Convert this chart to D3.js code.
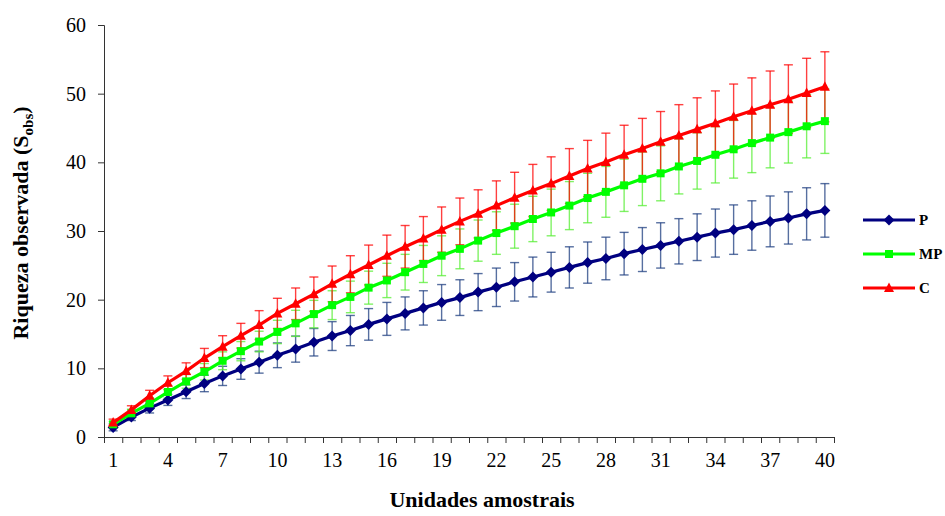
<!DOCTYPE html>
<html>
<head>
<meta charset="utf-8">
<script src="https://cdn.jsdelivr.net/npm/d3@7"></script>
<style>
    body { margin: 0; background: #fff; }
    text { font-family: "Liberation Serif", "Times New Roman", serif; }
</style>
</head>
<body>
<script>
// sampling units 1..40
let units = d3.range(1, 41);

let pMean = [1.4, 2.9, 4.2, 5.4, 6.6, 7.8, 8.9, 9.9, 10.9, 11.9,
    12.8, 13.8, 14.7, 15.5, 16.4, 17.2, 18.0, 18.8, 19.6, 20.3,
    21.1, 21.8, 22.6, 23.3, 24.0, 24.7, 25.4, 26.0, 26.7, 27.3,
    27.9, 28.5, 29.1, 29.7, 30.2, 30.8, 31.4, 31.9, 32.5, 33.0];
let pErr = [0.5, 0.5, 0.7, 0.8, 1.0, 1.2, 1.4, 1.5, 1.6, 1.8,
    1.9, 2.0, 2.1, 2.2, 2.3, 2.4, 2.4, 2.5, 2.6, 2.6,
    2.7, 2.8, 2.8, 2.9, 2.9, 3.0, 3.0, 3.1, 3.1, 3.2,
    3.3, 3.3, 3.4, 3.5, 3.6, 3.6, 3.7, 3.8, 3.8, 3.9];

let mpMean = [1.85, 3.45, 4.9, 6.55, 8.1, 9.5, 11.1, 12.5, 13.9, 15.3,
    16.55, 17.9, 19.2, 20.4, 21.75, 22.8, 24.0, 25.2, 26.4, 27.4,
    28.6, 29.7, 30.7, 31.75, 32.7, 33.7, 34.8, 35.7, 36.65, 37.6,
    38.4, 39.4, 40.2, 41.1, 41.9, 42.8, 43.6, 44.4, 45.25, 46.0];
let mpErr = [0.4, 0.6, 0.8, 0.9, 1.0, 1.2, 1.3, 1.4, 1.5, 1.7,
    1.9, 2.0, 2.1, 2.3, 2.4, 2.5, 2.6, 2.7, 2.9, 2.9,
    3.0, 3.1, 3.2, 3.3, 3.4, 3.5, 3.6, 3.7, 3.8, 3.9,
    4.0, 4.0, 4.1, 4.1, 4.2, 4.3, 4.4, 4.5, 4.6, 4.7];

let cMean = [2.1, 3.95, 6.0, 7.9, 9.6, 11.5, 13.15, 14.75, 16.3, 18.0,
    19.4, 20.8, 22.3, 23.7, 25.05, 26.4, 27.7, 28.9, 30.2, 31.4,
    32.5, 33.7, 34.85, 35.9, 36.9, 38.0, 39.1, 40.05, 41.1, 42.0,
    43.0, 43.9, 44.8, 45.7, 46.65, 47.5, 48.4, 49.2, 50.1, 51.0];
let cErr = [0.5, 0.6, 0.8, 1.0, 1.2, 1.4, 1.6, 1.8, 2.1, 2.2,
    2.3, 2.5, 2.6, 2.7, 2.9, 3.0, 3.1, 3.2, 3.3, 3.4,
    3.5, 3.6, 3.7, 3.8, 3.9, 4.0, 4.1, 4.2, 4.3, 4.4,
    4.4, 4.5, 4.6, 4.7, 4.75, 4.8, 4.9, 5.0, 5.05, 5.1];

let xTickLabels = [1, 4, 7, 10, 13, 16, 19, 22, 25, 28, 31, 34, 37, 40];
let yTickLabels = [0, 10, 20, 30, 40, 50, 60];

let seriesNames = ["P", "MP", "C"];

window.onload = function() {
    let w = 945,
        h = 516;

    let svg = d3.select("body")
        .append("svg")
        .attr("width", w)
        .attr("height", h);

    let x = d3.scaleBand()
        .domain(units)
        .range([104, 834]);
    let xEdge = d3.scaleLinear()
        .domain([0, 40])
        .range([104, 834]);
    let y = d3.scaleLinear()
        .domain([0, 60])
        .range([437, 25]);

    let cx = function(u) { return x(u) + x.bandwidth() / 2; };

    let series = [
        { name: seriesNames[0], mean: pMean, err: pErr, color: "#000080", bar: "#1f3f80", shape: "diamond" },
        { name: seriesNames[1], mean: mpMean, err: mpErr, color: "#00ff00", bar: "#55ee33", shape: "square" },
        { name: seriesNames[2], mean: cMean, err: cErr, color: "#ff0000", bar: "#ff0000", shape: "triangle" }
    ];

    function shapePath(shape) {
        if (shape == "diamond") return "M0,-5.5L5.5,0L0,5.5L-5.5,0Z";
        if (shape == "square") return "M-4,-4H4V4H-4Z";
        return "M0,-5.5L5,4L-5,4Z";
    }

    // y axis
    let yAxis = d3.axisLeft(y)
        .tickValues(yTickLabels)
        .tickSize(6)
        .tickPadding(12);
    let gy = svg.append("g")
        .attr("transform", "translate(104,0)")
        .call(yAxis);
    gy.selectAll("text")
        .style("font-size", "20px")
        .attr("fill", "#000");

    // x axis: tick marks at category edges
    svg.append("g")
        .attr("transform", "translate(0,437)")
        .call(d3.axisBottom(xEdge).tickValues(d3.range(0, 41)).tickSize(6).tickFormat(""));

    // x axis labels centred in categories
    let gx = svg.append("g")
        .attr("transform", "translate(0,437)")
        .call(d3.axisBottom(x).tickValues(xTickLabels).tickSize(0).tickPadding(16));
    gx.select(".domain").remove();
    gx.selectAll("text")
        .style("font-size", "20px")
        .attr("fill", "#000");

    svg.selectAll(".domain").attr("stroke", "#333");
    svg.selectAll(".tick line").attr("stroke", "#333");

    // error bars
    series.forEach(function(s) {
        let g = svg.append("g")
            .attr("stroke", s.bar)
            .attr("stroke-width", 1.4)
            .attr("stroke-opacity", 0.75)
            .attr("fill", "none");
        units.forEach(function(u, i) {
            let lo = y(s.mean[i] - s.err[i]),
                hi = y(s.mean[i] + s.err[i]),
                px = cx(u);
            g.append("line").attr("x1", px).attr("x2", px).attr("y1", lo).attr("y2", hi);
            g.append("line").attr("x1", px - 4.5).attr("x2", px + 4.5).attr("y1", lo).attr("y2", lo);
            g.append("line").attr("x1", px - 4.5).attr("x2", px + 4.5).attr("y1", hi).attr("y2", hi);
        });
    });

    let line = d3.line()
        .x(function(d) { return cx(d.u); })
        .y(function(d) { return y(d.v); });

    // lines + markers
    series.forEach(function(s) {
        let pts = units.map(function(u, i) { return { u: u, v: s.mean[i] }; });
        svg.append("path")
            .datum(pts)
            .attr("d", line)
            .attr("fill", "none")
            .attr("stroke", s.color)
            .attr("stroke-width", 3.2);
        svg.selectAll(".m-" + s.name)
            .data(pts)
            .enter()
            .append("path")
            .attr("class", "m-" + s.name)
            .attr("transform", function(d) { return "translate(" + cx(d.u) + "," + y(d.v) + ")"; })
            .attr("d", shapePath(s.shape))
            .attr("fill", s.color);
    });

    // legend
    let legend = svg.selectAll(".legend")
        .data(series)
        .enter()
        .append("g")
        .attr("class", "legend")
        .attr("transform", function(d, i) { return "translate(863," + (220 + i * 34) + ")"; });
    legend.append("line")
        .attr("x1", 0).attr("x2", 52)
        .attr("stroke", function(d) { return d.color; })
        .attr("stroke-width", 3);
    legend.append("path")
        .attr("transform", "translate(26,0)")
        .attr("d", function(d) { return shapePath(d.shape); })
        .attr("fill", function(d) { return d.color; });
    legend.append("text")
        .attr("x", 56)
        .attr("y", 5)
        .style("font-size", "15px")
        .style("font-weight", "bold")
        .text(function(d) { return d.name; });

    // axis titles
    svg.append("text")
        .attr("x", 482)
        .attr("y", 507)
        .attr("text-anchor", "middle")
        .style("font-size", "22px")
        .style("font-weight", "bold")
        .text("Unidades amostrais");

    let yTitle = svg.append("text")
        .attr("transform", "translate(28,223) rotate(-90)")
        .attr("text-anchor", "middle")
        .style("font-size", "22px")
        .style("font-weight", "bold");
    yTitle.append("tspan").text("Riqueza observada (S");
    yTitle.append("tspan").attr("dy", 5).style("font-size", "15px").text("obs");
    yTitle.append("tspan").attr("dy", -5).text(")");
};
</script>
</body>
</html>
